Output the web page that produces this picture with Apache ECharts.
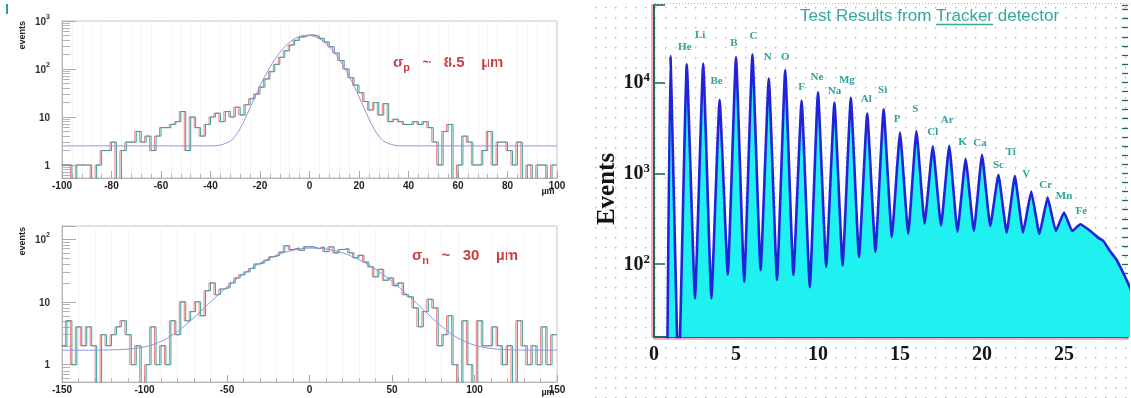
<!DOCTYPE html>
<html>
<head>
<meta charset="utf-8">
<script src="https://cdn.jsdelivr.net/npm/echarts@6/dist/echarts.min.js"></script>
<style>
  html, body { margin: 0; padding: 0; background: #ffffff; }
  #chart { width: 1131px; height: 398px; }
</style>
</head>
<body>
<div id="chart"></div>
<script>
// ---- p-side residuals: 2 µm bins from -100 µm ----
const pBinStart = -100;
const pBinWidth = 2;
const pCounts = [
  1, 1, 0, 1, 1, 1, 0, 1, 2, 2,
  3, 0, 2, 3, 3, 5, 3, 4, 2, 4,
  6, 6, 7, 8, 13, 2, 10, 6, 4, 7,
  10, 12, 8, 13, 10, 16, 11, 18, 24, 30,
  42, 62, 88, 125, 175, 240, 315, 395, 465, 505,
  510, 485, 435, 365, 290, 215, 150, 100, 66, 46,
  32, 21, 14, 20, 11, 19, 8, 9, 8, 7,
  7, 8, 7, 8, 6, 3, 1, 5, 7, 0,
  1, 4, 3, 1, 1, 2, 5, 1, 3, 3,
  2, 1, 3, 0, 1, 0, 1, 1, 0, 1
];
// gaussian + flat background fit, sampled positions (µm) and values
const pFitX = [-100, -40, -36, -32, -30, -28, -26, -24, -22, -20, -18, -16, -14, -12, -10, -8, -6, -4, -2, 0,
  2, 4, 6, 8, 10, 12, 14, 16, 18, 20, 22, 24, 26, 28, 30, 34, 38, 100];
const pFitY = [2.5, 2.5, 2.6, 3.15, 4.0, 5.75, 9.2, 15.5, 26.4, 44, 70.8, 109, 159, 221, 291, 362, 427, 477, 504, 504,
  477, 427, 362, 291, 221, 159, 109, 70.8, 44, 26.4, 15.5, 9.2, 5.75, 4.0, 3.15, 2.6, 2.5, 2.5];

// ---- n-side residuals: 3 µm bins from -150 µm ----
const nBinStart = -150;
const nBinWidth = 3;
const nCounts = [
  2, 5, 1, 4, 2, 4, 2, 0, 3, 2,
  3, 4, 5, 3, 1, 2, 0, 1, 4, 1,
  2, 1, 5, 3, 10, 5, 7, 10, 6, 15,
  20, 13, 16, 17, 20, 24, 27, 30, 34, 40,
  42, 46, 52, 55, 62, 78, 68, 72, 66, 75,
  75, 70, 75, 63, 75, 60, 68, 70, 60, 50,
  55, 43, 36, 25, 33, 22, 24, 18, 20, 13,
  12, 8, 4, 7, 11, 8, 2, 3, 6, 1,
  0, 5, 1, 0, 5, 2, 2, 4, 2, 1,
  2, 0, 5, 2, 1, 2, 1, 4, 1, 3
];
const nFitX = [-150, -130, -120, -110, -100, -90, -80, -70, -60, -50, -40, -30, -20, -10, 0,
  10, 20, 30, 40, 50, 60, 70, 80, 90, 100, 110, 120, 130, 150];
const nFitY = [1.7, 1.7, 1.72, 1.77, 1.92, 2.34, 3.37, 5.63, 9.96, 17.3, 27.9, 41.3, 55.2, 66.3, 71.6,
  69.3, 60.2, 47.0, 33.1, 21.2, 12.5, 7.06, 4.08, 2.65, 2.04, 1.81, 1.73, 1.71, 1.7];

// ---- Tracker charge spectrum ----
const elements = ['H', 'He', 'Li', 'Be', 'B', 'C', 'N', 'O', 'F', 'Ne', 'Na', 'Mg', 'Al', 'Si',
  'P', 'S', 'Cl', 'Ar', 'K', 'Ca', 'Sc', 'Ti', 'V', 'Cr', 'Mn', 'Fe'];
const peakCounts = [19400, 15800, 16100, 6440, 19000, 20300, 11000, 13600, 6280, 7790, 5980, 6770, 4540,
  5060, 2800, 2920, 1980, 2010, 1430, 1600, 960, 930, 630, 540, 370, 275];
// minimum between charge Z and Z+1
const valleyCounts = [5, 42, 42, 77, 64, 86, 67, 76, 56, 94, 97, 120, 137, 200, 217, 280, 265, 228,
  232, 263, 223, 223, 215, 232, 232];
const leadZ = [0.8];
const leadCounts = [5];
const tailZ = [26.7, 27.1, 27.4, 27.8, 28.2, 28.5, 28.8, 29.1, 29.4];
const tailCounts = [225, 195, 180, 140, 112, 88, 68, 52, 45];

// label placement around each peak tip (px), He..Fe
const labelNudge = [
  [-2, -17], [-3, -28], [-3, -19], [-2, -14], [1, -18], [-1, -21], [0, -13], [0, -14], [-1, -15],
  [0, -11], [-4, -18], [-1, -14], [-1, -19], [-3, -13], [-1, -22], [0, -14], [-2, -26], [-3, -17],
  [-2, -12], [0, -10], [-4, -24], [-5, -17], [-2, -12], [0, -16], [1, -13]
];

const SANS = '"Liberation Sans", Arial, Helvetica, sans-serif';
const SERIF = '"Liberation Serif", "Times New Roman", serif';
const TEAL = '#2fa398';
const AXIS_DARK = '#1f6a5d';
const RED = '#c94040';

function stepData(start, width, counts) {
  const out = counts.map((c, i) => [start + i * width, Math.max(c, 0.05)]);
  out.push([start + counts.length * width, Math.max(counts[counts.length - 1], 0.05)]);
  return out;
}
function pairs(xs, ys) { return xs.map((x, i) => [x, ys[i]]); }

function spectrumData() {
  const out = [];
  leadZ.forEach((z, i) => out.push([z, leadCounts[i]]));
  peakCounts.forEach((c, i) => {
    const z = i + 1;
    out.push([z, c]);
    if (i < valleyCounts.length) out.push([z + 0.5, valleyCounts[i]]);
  });
  tailZ.forEach((z, i) => out.push([z, tailCounts[i]]));
  return out;
}

function decadeLabel(v) {
  const e = Math.round(Math.log10(v));
  if (Math.abs(v / Math.pow(10, e) - 1) > 1e-6) return '';
  if (e === 0) return '{b|1}';
  if (e === 1) return '{b|10}';
  return '{b|10}{s|' + e + '}';
}

const leftRich = {
  b: { fontFamily: SANS, fontWeight: 'bold', fontSize: 10, lineHeight: 12, color: '#333', verticalAlign: 'bottom' },
  s: { fontFamily: SANS, fontWeight: 'bold', fontSize: 7, lineHeight: 8, color: '#333', padding: [0, 0, 8, 0] }
};
const rightRich = {
  b: { fontFamily: SERIF, fontWeight: 'bold', fontSize: 20, lineHeight: 22, color: '#161616', verticalAlign: 'bottom' },
  s: { fontFamily: SERIF, fontWeight: 'bold', fontSize: 13, lineHeight: 14, color: '#161616', padding: [0, 0, 10, 0] }
};

function leftX(grid, min, max, interval) {
  return {
    gridIndex: grid, type: 'value', min: min, max: max, interval: interval,
    axisLine: { show: true, onZero: false, lineStyle: { color: '#b4b4b4', width: 1 } },
    axisTick: { show: true, inside: true, length: 7, lineStyle: { color: '#a8a8a8' } },
    minorTick: { show: true, splitNumber: 5, length: 4, lineStyle: { color: '#b4b4b4' } },
    splitLine: { show: false },
    minorSplitLine: { show: true, lineStyle: { color: '#f5f5f5', width: 1 } },
    axisLabel: { margin: 3, fontFamily: SANS, fontWeight: 'bold', fontSize: 10, color: '#222' }
  };
}
function leftY(grid, min, max) {
  return {
    gridIndex: grid, type: 'log', logBase: 10, min: min, max: max,
    axisLine: { show: true, onZero: false, lineStyle: { color: '#b4b4b4', width: 1 } },
    axisTick: { show: true, inside: true, length: 14, lineStyle: { color: '#a8a8a8' } },
    minorTick: { show: true, splitNumber: 9, length: 8, lineStyle: { color: '#b4b4b4' } },
    splitLine: { show: false },
    axisLabel: { margin: 12, formatter: decadeLabel, rich: leftRich }
  };
}

// dotted paper texture behind the spectrum panel
const paperX = 588, paperW = 1131 - 588, paperH = 398;
const paper = document.createElement('canvas');
paper.width = paperW; paper.height = paperH;
const pctx = paper.getContext('2d');
for (let gx = 5; gx < 1131; gx += 10) {
  if (gx < paperX) continue;
  for (let gy = 7; gy < paperH; gy += 10) {
    pctx.fillStyle = '#b4b4b4';
    pctx.fillRect(gx - paperX, gy, 1, 1);
    pctx.fillStyle = '#dadada';
    pctx.fillRect(gx - paperX + 1, gy, 1, 1);
    pctx.fillRect(gx - paperX, gy + 1, 1, 1);
  }
}

// title pieces, measured so "Tracker" can be underlined
const titleFont = '17px ' + SANS;
const mctx = document.createElement('canvas').getContext('2d');
mctx.font = titleFont;
const tA = 'Test Results from ', tB = 'Tracker', tC = ' detector';
const wA = mctx.measureText(tA).width, wB = mctx.measureText(tB).width;
const titleX = 800, titleY = 16.5;

const chart = echarts.init(document.getElementById('chart'), null, { renderer: 'canvas' });

const labelData = peakCounts.slice(1).map((c, i) => ({
  value: [i + 2, c],
  name: elements[i + 1],
  label: { position: [labelNudge[i][0], labelNudge[i][1]] }
}));

const sigmaRich = {
  a: { fontFamily: SANS, fontWeight: 'bold', fontSize: 15, lineHeight: 16, verticalAlign: 'top', fill: RED, color: RED },
  b: { fontFamily: SANS, fontWeight: 'bold', fontSize: 11, lineHeight: 12, verticalAlign: 'top', padding: [7, 0, 0, 0], fill: RED, color: RED }
};

chart.setOption({
  animation: false,
  backgroundColor: '#ffffff',
  grid: [
    { left: 62, top: 21, width: 495, height: 157, show: true, borderColor: '#c6c6c6', borderWidth: 1, backgroundColor: 'transparent' },
    { left: 62, top: 226, width: 495, height: 156, show: true, borderColor: '#c6c6c6', borderWidth: 1, backgroundColor: 'transparent' },
    { left: 654, top: 5, right: 0, bottom: 61 }
  ],
  xAxis: [
    leftX(0, -100, 100, 20),
    leftX(1, -150, 150, 50),
    {
      gridIndex: 2, type: 'value', min: 0, max: 28.9, interval: 5,
      axisLine: { show: true, onZero: false, lineStyle: { color: AXIS_DARK, width: 2, shadowColor: 'rgba(240,120,150,0.6)', shadowOffsetY: 2 } },
      axisTick: { show: true, inside: true, length: 9, lineStyle: { color: AXIS_DARK, width: 1.5 } },
      minorTick: { show: true, splitNumber: 5, length: 5, lineStyle: { color: AXIS_DARK, width: 1.2 } },
      splitLine: { show: false },
      axisLabel: {
        margin: 8, fontFamily: SERIF, fontWeight: 'bold', fontSize: 20, color: '#161616',
        formatter: v => (v % 5 === 0 && v <= 25) ? String(v) : ''
      }
    }
  ],
  yAxis: [
    leftY(0, 0.536, 1000),
    leftY(1, 0.53, 161),
    {
      gridIndex: 2, type: 'log', logBase: 10, min: Math.pow(10, 1.2), max: Math.pow(10, 4.85),
      axisLine: { show: true, onZero: false, lineStyle: { color: AXIS_DARK, width: 2, shadowColor: 'rgba(240,120,150,0.6)', shadowOffsetX: -2 } },
      axisTick: { show: true, inside: true, length: 11, lineStyle: { color: AXIS_DARK, width: 1.6 } },
      minorTick: { show: false },
      splitLine: { show: false },
      axisLabel: { margin: 4, formatter: decadeLabel, rich: rightRich }
    },
    {
      // evenly spaced tenth-of-a-decade ticks along the spectrum's count axis
      gridIndex: 2, type: 'value', min: 1.2, max: 4.85, interval: 0.1,
      axisLine: { show: false, onZero: false },
      axisTick: { show: true, inside: true, length: 6, lineStyle: { color: AXIS_DARK, width: 1.3 } },
      axisLabel: { show: false },
      splitLine: { show: false }
    }
  ],
  series: [
    {
      type: 'line', xAxisIndex: 0, yAxisIndex: 0, step: 'end', showSymbol: false, z: 2,
      data: stepData(pBinStart, pBinWidth, pCounts),
      lineStyle: { color: '#3b9f9f', width: 1, shadowColor: 'rgba(236,112,112,0.9)', shadowOffsetX: -1.5, shadowBlur: 0 }
    },
    {
      type: 'line', xAxisIndex: 0, yAxisIndex: 0, smooth: 0.3, showSymbol: false, z: 3,
      data: pairs(pFitX, pFitY),
      lineStyle: { color: '#9a8ee0', width: 1 }
    },
    {
      type: 'line', xAxisIndex: 1, yAxisIndex: 1, step: 'end', showSymbol: false, z: 2,
      data: stepData(nBinStart, nBinWidth, nCounts),
      lineStyle: { color: '#3b9f9f', width: 1, shadowColor: 'rgba(236,112,112,0.9)', shadowOffsetX: -1.5, shadowBlur: 0 }
    },
    {
      type: 'line', xAxisIndex: 1, yAxisIndex: 1, smooth: 0.3, showSymbol: false, z: 3,
      data: pairs(nFitX, nFitY),
      lineStyle: { color: '#8c96e0', width: 1 }
    },
    {
      type: 'line', xAxisIndex: 2, yAxisIndex: 2, smooth: 0.12, showSymbol: false, z: 3,
      data: spectrumData(),
      lineStyle: { color: '#2222d8', width: 2.6 },
      areaStyle: { color: '#1ff0f0', opacity: 1, origin: 'start' }
    },
    {
      type: 'scatter', xAxisIndex: 2, yAxisIndex: 2, z: 5, symbolSize: 0,
      itemStyle: { color: 'rgba(0,0,0,0)', opacity: 0 },
      data: labelData,
      label: {
        show: true, formatter: p => p.name, align: 'center', verticalAlign: 'middle', opacity: 1,
        fontFamily: SERIF, fontWeight: 'bold', fontSize: 11, color: TEAL
      }
    }
  ],
  graphic: {
    elements: [
      { type: 'image', z: -10, silent: true, x: paperX, y: 0,
        style: { image: paper, width: paperW, height: paperH } },
      { type: 'line', z: -5, silent: true, shape: { x1: 655, y1: 3.5, x2: 1131, y2: 3.5 },
        style: { stroke: '#e3a0b4', lineWidth: 1, lineDash: [1, 2] } },
      { type: 'rect', silent: true, shape: { x: 6, y: 4, width: 2, height: 10 }, style: { fill: '#2a9d9d' } },
      { type: 'text', x: 23, y: 21, rotation: Math.PI / 2,
        style: { text: 'events', font: 'bold 9px ' + SANS, fill: '#222', align: 'right', verticalAlign: 'middle' } },
      { type: 'text', x: 23, y: 227, rotation: Math.PI / 2,
        style: { text: 'events', font: 'bold 9px ' + SANS, fill: '#222', align: 'right', verticalAlign: 'middle' } },
      { type: 'text', x: 548, y: 192,
        style: { text: 'µm', font: 'bold 9px ' + SANS, fill: '#222', align: 'center', verticalAlign: 'middle' } },
      { type: 'text', x: 548, y: 393,
        style: { text: 'µm', font: 'bold 9px ' + SANS, fill: '#222', align: 'center', verticalAlign: 'middle' } },
      { type: 'text', x: 393, y: 55,
        style: { text: '{a|σ}{b|p}{a|   ~   8.5    µm}', fill: RED, rich: sigmaRich } },
      { type: 'text', x: 412, y: 248,
        style: { text: '{a|σ}{b|n}{a|   ~   30    µm}', fill: RED, rich: sigmaRich } },
      { type: 'text', x: titleX, y: titleY,
        style: { text: tA + tB + tC, font: titleFont, fill: '#36a89c', align: 'left', verticalAlign: 'middle' } },
      { type: 'line', silent: true, shape: { x1: titleX + wA, y1: 24.5, x2: titleX + wA + wB, y2: 24.5 },
        style: { stroke: '#36a89c', lineWidth: 1.3 } },
      { type: 'text', x: 608, y: 189, rotation: Math.PI / 2,
        style: { text: 'Events', font: 'bold 25px ' + SERIF, fill: '#141414', align: 'center', verticalAlign: 'middle' } },
      { type: 'text', x: 977, y: 313,
        style: { text: 'Nuclear charge', font: 'bold 21px ' + SERIF, fill: '#1a2a28', align: 'center', verticalAlign: 'middle' } }
    ]
  }
});
</script>
</body>
</html>
